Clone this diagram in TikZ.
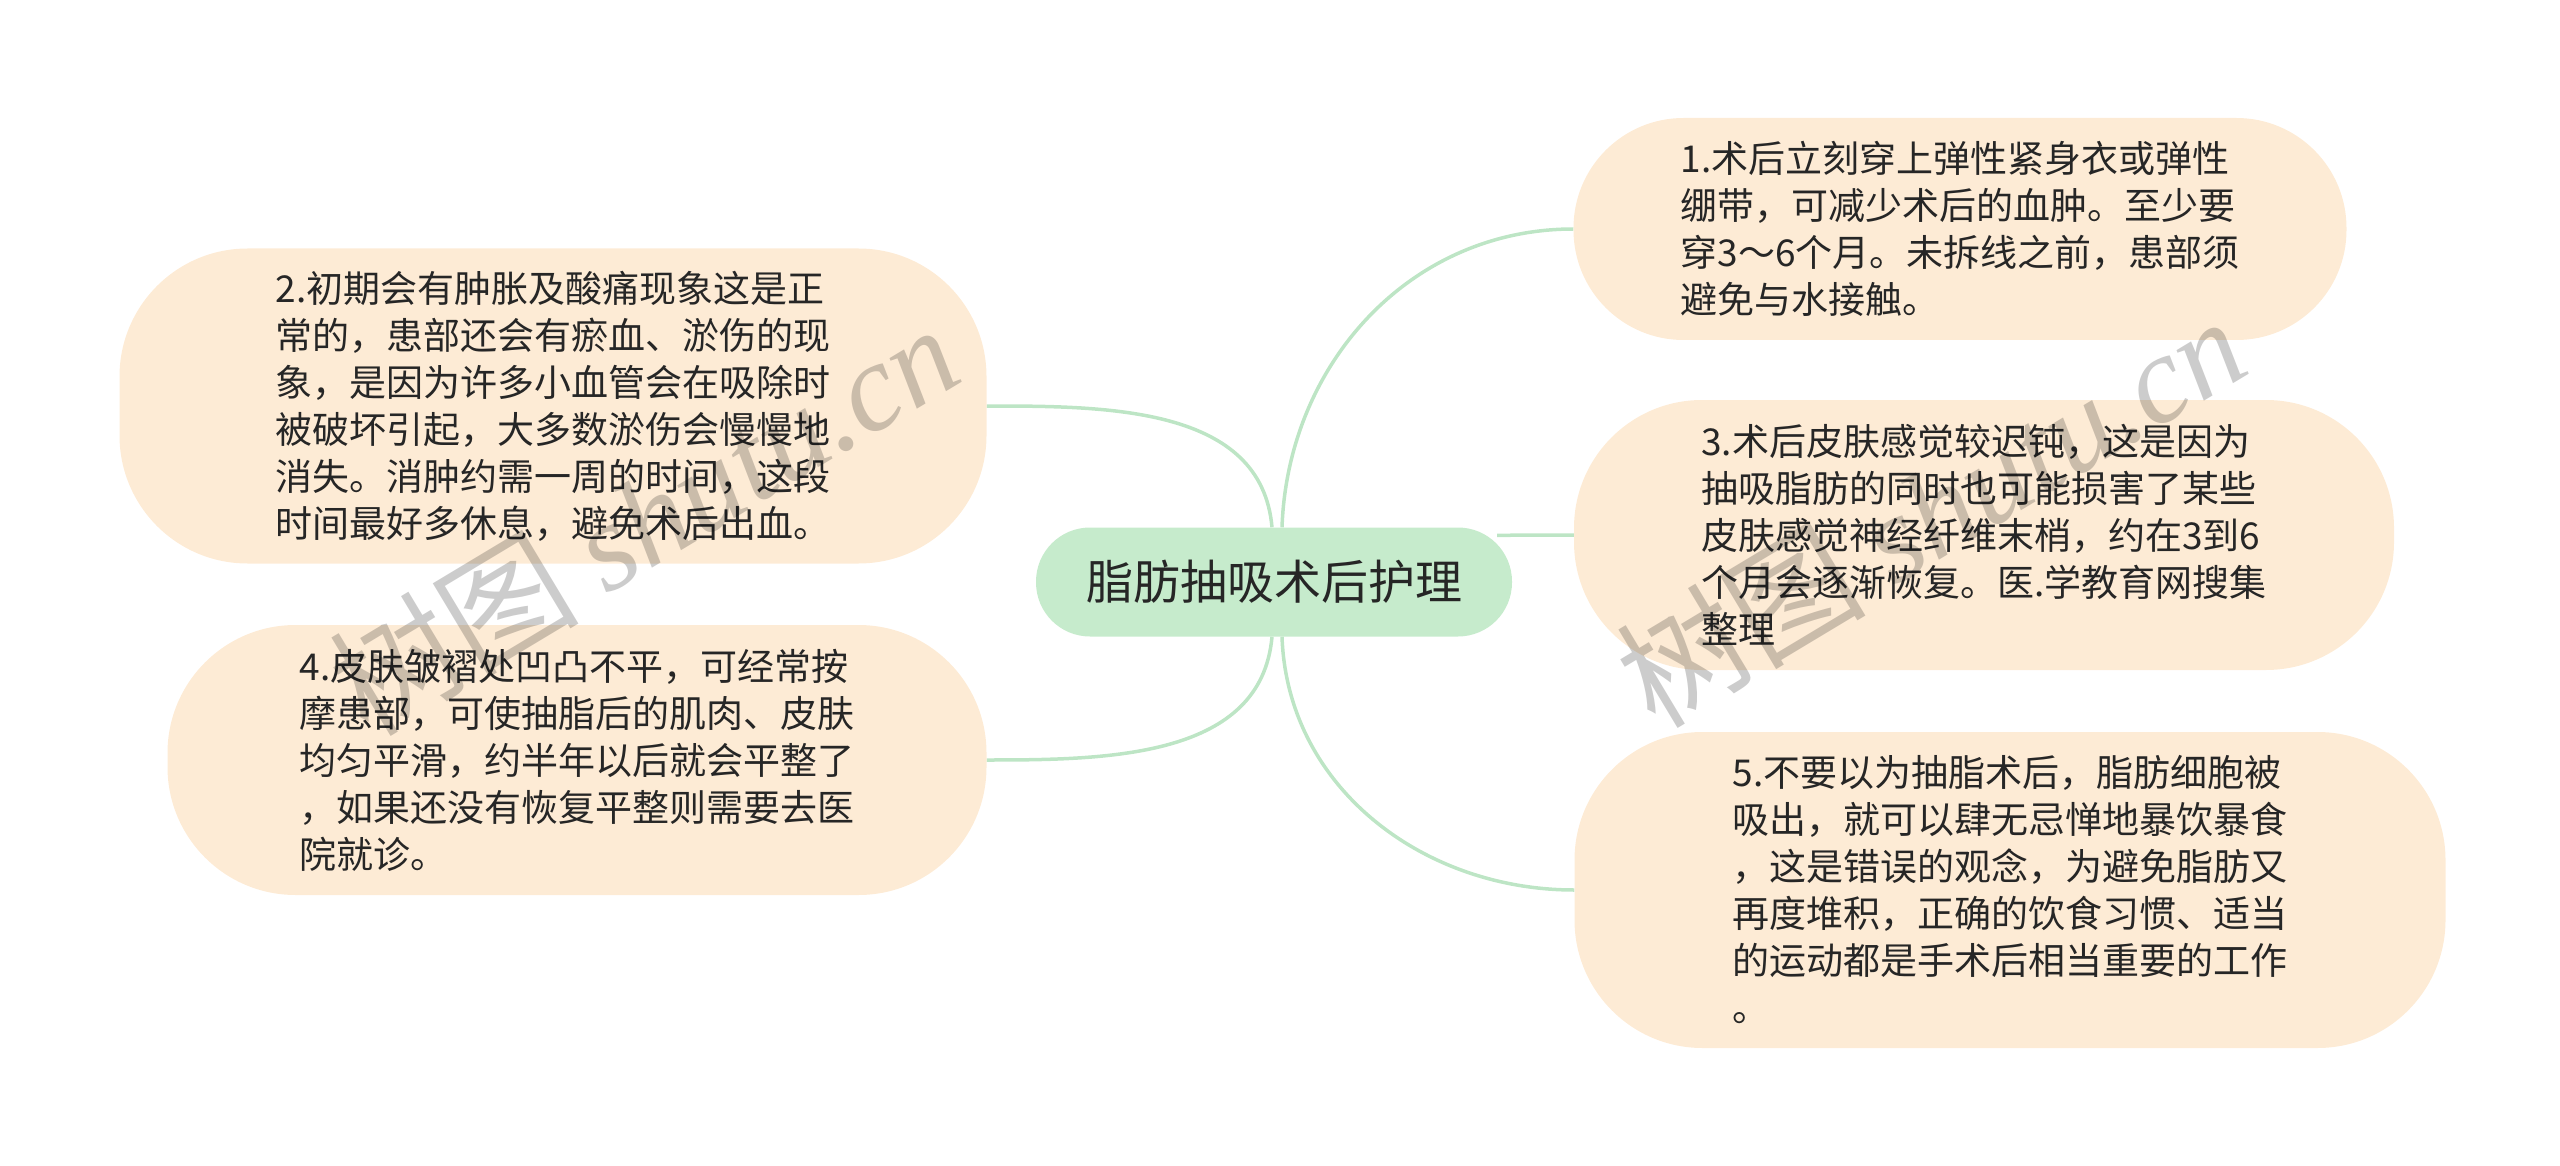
\documentclass[tikz,border=0pt]{standalone}
\usepackage{fontspec}
\setmainfont{Noto Sans CJK SC}
\newfontfamily\wmserif{Liberation Serif}
\usetikzlibrary{backgrounds}

\definecolor{topicgreen}{HTML}{C6EBCC}
\definecolor{leafpeach}{HTML}{FDEBD5}
\definecolor{linkgreen}{HTML}{BDE5C5}
\definecolor{inkgray}{HTML}{262626}

\begin{document}
\begin{tikzpicture}[x=1pt,y=-1pt]
  \tikzstyle{topic}=[fill=topicgreen,text=inkgray,rounded corners=54pt,inner sep=0pt,
                     minimum width=476pt,minimum height=109pt,font=\fontsize{47}{56}\selectfont]
  \tikzstyle{leaf}=[fill=leafpeach,text=inkgray,rounded corners=128pt,inner sep=0pt,align=left,
                    font=\fontsize{37}{47}\selectfont]
  \tikzstyle{link}=[draw=linkgreen,line width=3.5pt]
  \tikzstyle{stamp}=[text=black,text opacity=0.2,rotate=31,font=\fontsize{125}{130}\selectfont]

  \useasboundingbox (0,0) rectangle (2560,1166);

  \node[topic] (C)  at (1274,582)  {脂肪抽吸术后护理};

  \node[leaf,rounded corners=110pt,minimum width=773pt,minimum height=222pt] (N1) at (1960,229)
    {1.术后立刻穿上弹性紧身衣或弹性\\绷带，可减少术后的血肿。至少要\\穿3～6个月。未拆线之前，患部须\\避免与水接触。};
  \node[leaf,minimum width=867pt,minimum height=315pt] (N2) at (553,406)
    {2.初期会有肿胀及酸痛现象这是正\\常的，患部还会有瘀血、淤伤的现\\象，是因为许多小血管会在吸除时\\被破坏引起，大多数淤伤会慢慢地\\消失。消肿约需一周的时间，这段\\时间最好多休息，避免术后出血。};
  \node[leaf,minimum width=820pt,minimum height=270pt] (N3) at (1984,535)
    {3.术后皮肤感觉较迟钝，这是因为\\抽吸脂肪的同时也可能损害了某些\\皮肤感觉神经纤维末梢，约在3到6\\个月会逐渐恢复。医.学教育网搜集\\整理};
  \node[leaf,minimum width=819pt,minimum height=270pt] (N4) at (577,760)
    {4.皮肤皱褶处凹凸不平，可经常按\\摩患部，可使抽脂后的肌肉、皮肤\\均匀平滑，约半年以后就会平整了\\，如果还没有恢复平整则需要去医\\院就诊。};
  \node[leaf,minimum width=871pt,minimum height=316pt] (N5) at (2010,890)
    {5.不要以为抽脂术后，脂肪细胞被\\吸出，就可以肆无忌惮地暴饮暴食\\，这是错误的观念，为避免脂肪又\\再度堆积，正确的饮食习惯、适当\\的运动都是手术后相当重要的工作\\。};

  \begin{scope}[on background layer]
    \path ([xshift=8pt]C.north)  edge [link,out=88,in=180]  (N1.west)
          ([xshift=-2pt]C.north) edge [link,out=95,in=0]    (N2.east)
          ([xshift=-15pt,yshift=-8pt]C.north east) edge [link] (N3.west)
          ([xshift=-2pt]C.south) edge [link,out=265,in=0]   (N4.east)
          ([xshift=8pt]C.south)  edge [link,out=272,in=180] (N5.west);
  \end{scope}

  % watermark
  \node[stamp] (W1) at (643,518)  {树图 {\wmserif\itshape shutu.cn}};
  \node[stamp] (W2) at (1930,510) {树图 {\wmserif\itshape shutu.cn}};
\end{tikzpicture}
\end{document}
